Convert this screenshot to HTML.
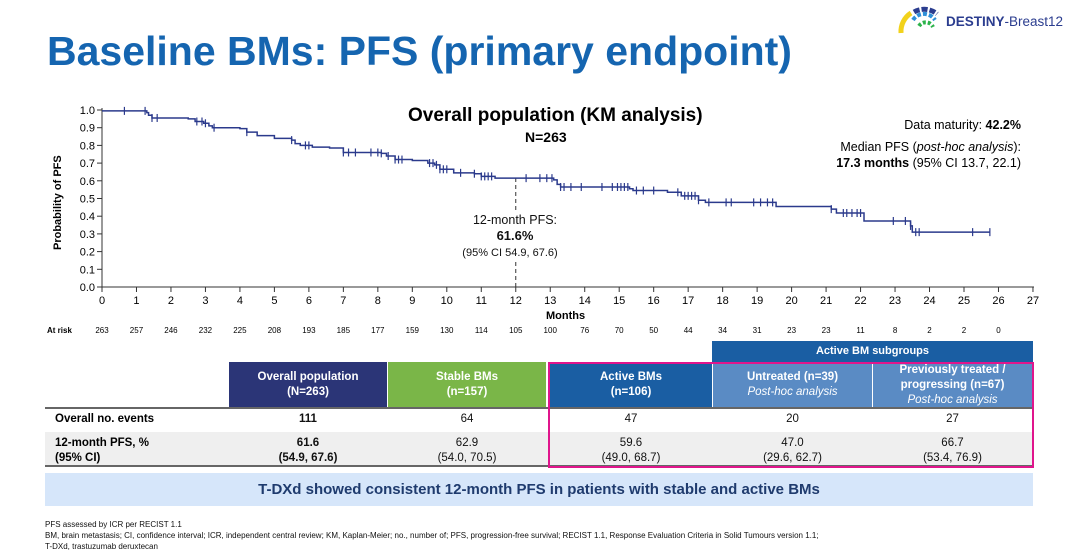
<!DOCTYPE html><html><head><meta charset="utf-8"><style>
body{margin:0;width:1080px;height:560px;background:#fff;font-family:"Liberation Sans",Arial,sans-serif;position:relative;overflow:hidden}
.a{position:absolute}
.h{color:#fff;font-weight:bold;font-size:11.5px;text-align:center;display:flex;flex-direction:column;justify-content:center;line-height:15px}
.c{text-align:center;font-size:11.5px;color:#111}
</style></head><body>
<div class="a" style="left:47px;top:28px;font-size:41px;font-weight:bold;color:#1565b0;white-space:nowrap">Baseline BMs: PFS (primary endpoint)</div>
<svg class="a" style="left:897px;top:5px" width="50" height="30" viewBox="0 0 50 30">
<path d="M4 28 A22 22 0 0 1 14 8" stroke="#f2d21b" stroke-width="5" fill="none"/>
<path d="M17 7 A20 20 0 0 1 40 9" stroke="#2b3d8f" stroke-width="5" fill="none" stroke-dasharray="6 2"/>
<path d="M16 15 A13 13 0 0 1 38 15" stroke="#2f8fd8" stroke-width="4" fill="none" stroke-dasharray="4 2"/>
<path d="M22 21 A8 8 0 0 1 36 22" stroke="#2bb34a" stroke-width="4" fill="none" stroke-dasharray="3 2"/>
</svg>
<div class="a" style="left:946px;top:14px;font-size:13.5px;color:#2b3d8f;white-space:nowrap"><b>DESTINY</b>-Breast12</div>
<svg id="km" class="a" style="left:0;top:0" width="1080" height="340"></svg>
<div class="a" style="left:408px;top:105px;font-size:19px;font-weight:bold">Overall population (KM analysis)</div>
<div class="a" style="left:525px;top:129px;font-size:14px;font-weight:bold">N=263</div>
<div class="a" style="right:59px;top:117px;font-size:12.5px;text-align:right;line-height:16px">Data maturity: <b>42.2%</b><div style="height:6px"></div>Median PFS (<i>post-hoc analysis</i>):<br><b>17.3 months</b> (95% CI 13.7, 22.1)</div>
<div class="a c" style="left:460px;top:212px;width:110px;font-size:12.5px;line-height:16px;background:#fff">12-month PFS:<br><b style="font-size:13px">61.6%</b><br><span style="font-size:11px;white-space:nowrap;margin-left:-10px">(95% CI 54.9, 67.6)</span></div>
<div class="a" style="left:52px;top:250px;transform:rotate(-90deg);transform-origin:0 0;font-size:11px;font-weight:bold;white-space:nowrap">Probability of PFS</div>
<div class="a" style="left:546px;top:310px;font-size:11px;font-weight:bold">Months</div>
<div class="a h" style="left:712px;top:341px;width:321px;height:21px;background:#1a5ea3;font-size:11px">Active BM subgroups</div>
<div class="a h" style="left:229px;top:362px;width:158px;height:46px;background:#2b3577">Overall population<br>(N=263)</div>
<div class="a h" style="left:388px;top:362px;width:158px;height:46px;background:#7ab648">Stable BMs<br>(n=157)</div>
<div class="a h" style="left:550px;top:362px;width:162px;height:46px;background:#1a5ea3">Active BMs<br>(n=106)</div>
<div class="a h" style="left:713px;top:362px;width:159px;height:46px;background:#5a8bc4">Untreated (n=39)<br><i style="font-weight:normal">Post-hoc analysis</i></div>
<div class="a h" style="left:873px;top:362px;width:159px;height:46px;background:#5a8bc4">Previously treated /<br>progressing (n=67)<br><i style="font-weight:normal">Post-hoc analysis</i></div>
<div class="a" style="left:45px;top:407px;width:988px;height:2px;background:#666"></div>
<div class="a" style="left:45px;top:432px;width:988px;height:34px;background:#efefef"></div>
<div class="a" style="left:45px;top:465px;width:988px;height:2px;background:#666"></div>
<div class="a" style="left:55px;top:413px;font-size:11.5px;font-weight:bold">Overall no. events</div>
<div class="a" style="left:55px;top:436px;font-size:11.5px;font-weight:bold;line-height:15px">12-month PFS, %<br>(95% CI)</div>
<div class="a c" style="left:229px;top:413px;width:158px;font-weight:bold">111</div>
<div class="a c" style="left:388px;top:413px;width:158px">64</div>
<div class="a c" style="left:550px;top:413px;width:162px">47</div>
<div class="a c" style="left:713px;top:413px;width:159px">20</div>
<div class="a c" style="left:873px;top:413px;width:159px">27</div>
<div class="a c" style="left:229px;top:436px;width:158px;font-weight:bold;line-height:15px">61.6<br>(54.9, 67.6)</div>
<div class="a c" style="left:388px;top:436px;width:158px;line-height:15px">62.9<br>(54.0, 70.5)</div>
<div class="a c" style="left:550px;top:436px;width:162px;line-height:15px">59.6<br>(49.0, 68.7)</div>
<div class="a c" style="left:713px;top:436px;width:159px;line-height:15px">47.0<br>(29.6, 62.7)</div>
<div class="a c" style="left:873px;top:436px;width:159px;line-height:15px">66.7<br>(53.4, 76.9)</div>
<div class="a" style="left:548px;top:362px;width:482px;height:102px;border:2px solid #e0158c"></div>
<div class="a" style="left:45px;top:473px;width:988px;height:33px;background:#d6e6fa;color:#1f3b6e;font-weight:bold;font-size:15px;text-align:center;line-height:33px">T-DXd showed consistent 12-month PFS in patients with stable and active BMs</div>
<div class="a" style="left:45px;top:519px;font-size:8px;line-height:11px;color:#111">PFS assessed by ICR per RECIST 1.1<br>BM, brain metastasis; CI, confidence interval; ICR, independent central review; KM, Kaplan-Meier; no., number of; PFS, progression-free survival; RECIST 1.1, Response Evaluation Criteria in Solid Tumours version 1.1;<br>T-DXd, trastuzumab deruxtecan</div>
<script>
var X=m=>102+m*34.48,Y=p=>287-p*177,s='';
s+='<line x1="102" y1="108" x2="102" y2="288" stroke="#333"/><line x1="101" y1="287" x2="1034" y2="287" stroke="#333"/>';
for(var i=0;i<=10;i++){var y=Y(i/10);s+='<line x1="97" x2="102" y1="'+y+'" y2="'+y+'" stroke="#333"/><text x="95" y="'+(y+4)+'" font-size="11" text-anchor="end">'+(i/10).toFixed(1)+'</text>';}
var ar=[263,257,246,232,225,208,193,185,177,159,130,114,105,100,76,70,50,44,34,31,23,23,11,8,2,2,0];
for(var i=0;i<=27;i++){var x=X(i);s+='<line x1="'+x+'" x2="'+x+'" y1="287" y2="292" stroke="#333"/><text x="'+x+'" y="304" font-size="11" text-anchor="middle">'+i+'</text>';if(i<27)s+='<text x="'+x+'" y="333" font-size="8" text-anchor="middle">'+ar[i]+'</text>';}
s+='<text x="47" y="333" font-size="8" font-weight="bold">At risk</text>';
s+='<line x1="'+X(12)+'" x2="'+X(12)+'" y1="'+Y(0.616)+'" y2="287" stroke="#333" stroke-dasharray="4 3"/>';
var d=[[0,.995],[1.3,.985],[1.35,.97],[1.45,.955],[2.5,.95],[2.7,.935],[2.95,.925],[3.1,.91],[3.2,.90],[4.0,.895],[4.2,.875],[4.5,.855],[5.0,.84],[5.5,.83],[5.6,.81],[5.75,.80],[6.1,.79],[6.6,.785],[7.0,.76],[8.1,.755],[8.25,.74],[8.5,.72],[9.0,.715],[9.45,.70],[9.65,.69],[9.8,.665],[10.2,.645],[10.8,.64],[11.0,.625],[11.4,.615],[13.1,.605],[13.2,.58],[13.3,.565],[15.3,.555],[15.4,.545],[16.4,.535],[16.8,.515],[17.3,.49],[17.5,.478],[19.55,.455],[21.15,.44],[21.3,.418],[22.1,.373],[23.45,.345],[23.5,.31],[25.75,.31]];
var p='M'+X(d[0][0])+' '+Y(d[0][1]);
for(var i=1;i<d.length;i++){p+=' H'+X(d[i][0])+' V'+Y(d[i][1]);}
s+='<path d="'+p+'" fill="none" stroke="#2b3a8c" stroke-width="1.5"/>';
var t=[0.65,1.25,1.45,1.6,2.75,2.9,3.0,3.25,4.2,5.5,5.9,6.0,7.0,7.15,7.35,7.8,8.0,8.1,8.3,8.5,8.6,8.7,9.5,9.6,9.7,9.8,9.9,10.0,10.4,10.8,11.0,11.1,11.2,11.3,12.3,12.7,12.9,13.05,13.3,13.4,13.6,13.9,14.5,14.8,14.95,15.05,15.15,15.25,15.5,15.7,16.0,16.7,16.9,17.0,17.1,17.2,17.3,17.6,18.1,18.25,18.9,19.1,19.3,19.45,21.15,21.5,21.6,21.75,21.9,22.0,22.95,23.3,23.45,23.6,23.7,25.25,25.75];
function val(m){var v=d[0][1];for(var i=0;i<d.length;i++){if(d[i][0]<=m)v=d[i][1];}return v;}
t.forEach(m=>{var x=X(m),y=Y(val(m));s+='<line x1="'+x+'" x2="'+x+'" y1="'+(y-4)+'" y2="'+(y+4)+'" stroke="#2b3a8c" stroke-width="1.2"/>';});
document.getElementById('km').innerHTML=s;
</script>
</body></html>
